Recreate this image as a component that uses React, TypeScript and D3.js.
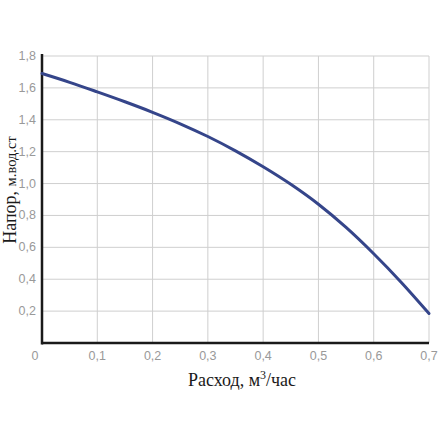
import * as d3 from 'd3';

const flow = [0, 0.05, 0.1, 0.15, 0.2, 0.25, 0.3, 0.35, 0.4, 0.45, 0.5, 0.55, 0.6, 0.65, 0.7];
const head = [1.69, 1.635, 1.575, 1.513, 1.447, 1.375, 1.295, 1.205, 1.105, 0.995, 0.87, 0.725, 0.56, 0.38, 0.185];

const xTicks = [0, 0.1, 0.2, 0.3, 0.4, 0.5, 0.6, 0.7];
const yTicks = [0.2, 0.4, 0.6, 0.8, 1.0, 1.2, 1.4, 1.6, 1.8];

const fmt = (v: number) => (v === 0 ? '0' : v.toFixed(1).replace('.', ','));

export default function App() {
  const width = 440;
  const height = 440;
  const margin = { top: 56, right: 11, bottom: 97, left: 42 };

  const x = d3.scaleLinear().domain([0, 0.7]).range([margin.left, width - margin.right]);
  const y = d3.scaleLinear().domain([0, 1.8]).range([height - margin.bottom, margin.top]);

  const points = flow.map((f, i) => [f, head[i]] as [number, number]);
  const line = d3.line<[number, number]>()
    .x(d => x(d[0]))
    .y(d => y(d[1]))
    .curve(d3.curveCatmullRom);

  const tickFont = 'Liberation Sans, Arial, sans-serif';
  const serif = 'Liberation Serif, Times New Roman, serif';

  return (
    <svg width={width} height={height} style={{ position: 'absolute', left: 0, top: 0, background: '#fff' }}>
      {/* grid */}
      {xTicks.slice(1).map(t => (
        <line key={'gx' + t} x1={x(t)} x2={x(t)} y1={y(1.8)} y2={y(0)} stroke="#cfcfcf" strokeWidth={1} />
      ))}
      {yTicks.map(t => (
        <line key={'gy' + t} x1={x(0)} x2={x(0.7)} y1={y(t)} y2={y(t)} stroke="#cfcfcf" strokeWidth={1} />
      ))}

      {/* axes */}
      <line x1={x(0)} x2={x(0)} y1={y(1.8) - 2} y2={y(0) + 1.5} stroke="#1a1a1a" strokeWidth={2.5} />
      <line x1={x(0)} x2={x(0.7)} y1={y(0)} y2={y(0)} stroke="#1a1a1a" strokeWidth={2.5} />

      {/* curve */}
      <path d={line(points) ?? ''} fill="none" stroke="#35458a" strokeWidth={3} strokeLinecap="round" />

      {/* tick labels */}
      {xTicks.map(t => (
        <text key={'tx' + t} x={t === 0 ? x(t) - 7 : x(t)} y={y(0) + 17} textAnchor="middle"
          fontFamily={tickFont} fontSize={12.5} fill="#999">
          {fmt(t)}
        </text>
      ))}
      {yTicks.map(t => (
        <text key={'ty' + t} x={x(0) - 6} y={y(t) + 4} textAnchor="end"
          fontFamily={tickFont} fontSize={12.5} fill="#999">
          {fmt(t)}
        </text>
      ))}

      {/* axis titles */}
      <text x={242} y={386} textAnchor="middle" fontFamily={serif} fontSize={18} fill="#1a1a1a">
        Расход, м<tspan dy={-7} fontSize={12}>3</tspan><tspan dy={7}>/час</tspan>
      </text>
      <text transform="translate(16,190) rotate(-90)" textAnchor="middle" fontFamily={serif} fill="#1a1a1a">
        <tspan fontSize={18}>Напор, </tspan><tspan fontSize={14.5}>м.вод.ст</tspan>
      </text>
    </svg>
  );
}
